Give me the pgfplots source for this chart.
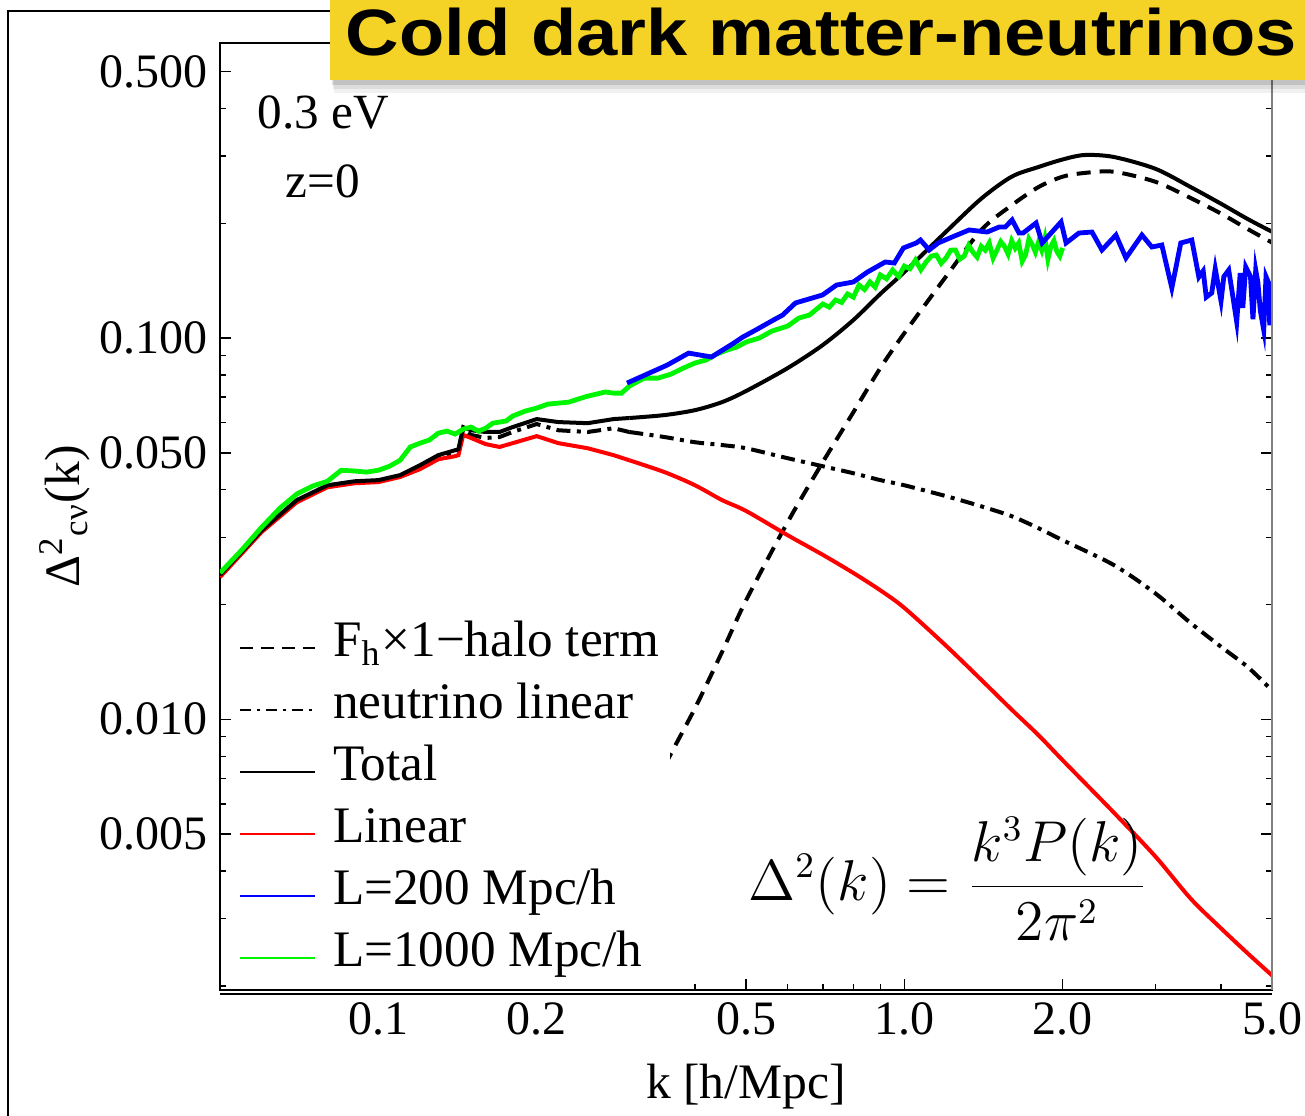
\documentclass[border=0pt]{standalone}
\usepackage{fontspec}
\setmainfont{Liberation Serif}
\newfontfamily\titlefont{Liberation Sans}
\usepackage{graphicx}
\usepackage{pgfplots}
\pgfplotsset{compat=1.18}
\definecolor{titleyellow}{RGB}{245,211,38}
\definecolor{pgreen}{RGB}{0,245,0}
\begin{document}
\begin{tikzpicture}
\begin{axis}[
  at={(55pt,-247.5pt)}, anchor=south west,
  scale only axis, width=263pt, height=236.75pt,
  xmode=log, ymode=log,
  xmin=0.05, xmax=5, ymin=0.00195, ymax=0.594,
  xtick={0.1,0.2,0.5,1,2,5},
  xticklabels={0.1,0.2,0.5,1.0,2.0,5.0},
  minor xtick={0.3,0.4,0.6,0.7,0.8,0.9,3,4},
  ytick={0.005,0.01,0.05,0.1,0.5},
  yticklabels={0.005,0.010,0.050,0.100,0.500},
  minor ytick={0.002,0.003,0.004,0.006,0.007,0.008,0.009,0.02,0.03,0.04,0.06,0.07,0.08,0.09,0.2,0.3,0.4},
  major tick length=2.75pt, minor tick length=1.5pt,
  tick style={black, line width=0.35pt},
  axis line style={line width=0.4pt},
  ticklabel style={font=\fontsize{12}{14}\selectfont},
  xticklabel style={inner sep=3pt},
  yticklabel style={inner sep=3pt},
  xlabel={k [h/Mpc]},
  ylabel={Δ\textsuperscript{2}\textsubscript{cν}(k)},
  label style={font=\fontsize{12.4}{14}\selectfont},
  xlabel style={at={(axis description cs:0.5,-0.1024)}, anchor=center},
  ylabel style={at={(axis description cs:-0.1473,0.5)}, anchor=center},
  legend style={at={(axis description cs:0.0171,0.3949)}, anchor=north west, fill=white, draw=none, inner sep=0pt,
    font=\fontsize{12.8}{15}\selectfont, row sep=0pt,
    nodes={inner xsep=2.5pt, inner ysep=0pt, text height=10pt, text depth=5.5pt}},
  legend cell align=left,
  legend image code/.code={\draw[#1] (0pt,0pt) -- (18.75pt,0pt); \path (20.5pt,0pt);},
]
% F_h x 1-halo term
\addplot[forget plot, black, line width=1pt, dash pattern=on 3.5pt off 2.25pt, smooth, tension=0.5] coordinates {
(0.20,0.00148)(0.22,0.00194)(0.25,0.00285)(0.30,0.00481)(0.35,0.00753)(0.40,0.0107)(0.45,0.0150)(0.50,0.0205)(0.60,0.0329)(0.70,0.0473)(0.80,0.0639)(0.90,0.0834)(1.0,0.103)(1.2,0.145)(1.4,0.192)(1.6,0.223)(1.8,0.249)(2.0,0.265)(2.2,0.271)(2.5,0.273)(3.0,0.257)(3.5,0.233)(4.0,0.212)(4.5,0.193)(5.0,0.178)};
% neutrino linear
\addplot[forget plot, black, line width=1pt, dash pattern=on 3.5pt off 1.6pt on 1pt off 1.6pt] coordinates {
(0.05,0.0237)(0.06,0.0311)(0.07,0.0373)(0.08,0.0408)(0.09,0.0418)(0.10,0.0421)(0.11,0.0434)(0.12,0.0460)(0.13,0.0488)(0.14,0.0503)(0.142,0.0506)(0.145,0.0578)(0.15,0.0557)(0.16,0.0547)(0.17,0.0550)(0.18,0.0567)(0.20,0.0595)(0.22,0.0573)(0.25,0.0567)(0.28,0.0580)(0.30,0.0567)};
\addplot[forget plot, black, line width=1pt, dash pattern=on 3.5pt off 1.6pt on 1pt off 1.6pt, smooth, tension=0.5] coordinates {
(0.30,0.0567)(0.35,0.0550)(0.40,0.0533)(0.45,0.0524)(0.50,0.0514)(0.60,0.0484)(0.70,0.0461)(0.80,0.0442)(0.90,0.0424)(1.0,0.0411)(1.2,0.0385)(1.4,0.0362)(1.6,0.0341)(1.8,0.0317)(2.0,0.0295)(2.5,0.0254)(3.0,0.0214)(3.5,0.0179)(4.0,0.0155)(4.5,0.0137)(5.0,0.0119)};
% Linear
\addplot[forget plot, red, line width=1pt] coordinates {
(0.05,0.0236)(0.06,0.0310)(0.07,0.0371)(0.08,0.0406)(0.09,0.0416)(0.10,0.0419)(0.11,0.0432)(0.12,0.0453)(0.13,0.0481)(0.14,0.0490)(0.142,0.0493)(0.145,0.0557)(0.15,0.0547)(0.16,0.0527)(0.17,0.0518)(0.18,0.0530)(0.20,0.0553)(0.22,0.0530)(0.25,0.0514)(0.28,0.0493)(0.30,0.0478)};
\addplot[forget plot, red, line width=1pt, smooth, tension=0.5] coordinates {
(0.30,0.0478)(0.35,0.0445)(0.40,0.0411)(0.45,0.0376)(0.50,0.0352)(0.60,0.0304)(0.70,0.0270)(0.80,0.0242)(0.90,0.0218)(1.0,0.0196)(1.2,0.0156)(1.4,0.0127)(1.6,0.0106)(1.8,0.00908)(2.0,0.00781)(2.5,0.00570)(3.0,0.00437)(3.5,0.00339)(4.0,0.00283)(4.5,0.00243)(5.0,0.00213)};
% Total
\addplot[forget plot, black, line width=1pt] coordinates {
(0.05,0.0239)(0.06,0.0313)(0.07,0.0376)(0.08,0.0411)(0.09,0.0421)(0.10,0.0424)(0.11,0.0437)(0.12,0.0464)(0.13,0.0493)(0.14,0.0508)(0.142,0.0511)(0.145,0.0584)(0.15,0.0573)(0.16,0.0567)(0.17,0.0567)(0.18,0.0584)(0.20,0.0613)(0.22,0.0602)(0.25,0.0598)(0.28,0.0613)(0.30,0.0617)};
\addplot[forget plot, black, line width=1pt, smooth, tension=0.5] coordinates {
(0.30,0.0617)(0.35,0.0628)(0.40,0.0647)(0.45,0.0679)(0.50,0.0726)(0.60,0.0834)(0.70,0.0959)(0.80,0.1115)(0.90,0.1305)(1.0,0.149)(1.2,0.190)(1.4,0.232)(1.6,0.265)(1.8,0.281)(2.0,0.294)(2.2,0.302)(2.5,0.2985)(3.0,0.278)(3.5,0.249)(4.0,0.225)(4.5,0.205)(5.0,0.190)};
% L=1000
\addplot[forget plot, pgreen, line width=1.2pt] coordinates {
(0.05,0.0242)(0.055,0.0278)(0.06,0.0319)(0.065,0.0358)(0.07,0.0390)(0.075,0.0409)(0.08,0.0421)(0.085,0.0450)(0.09,0.0448)(0.095,0.0445)(0.10,0.0450)(0.105,0.0461)(0.11,0.0478)(0.115,0.0518)(0.12,0.0530)(0.125,0.0540)(0.13,0.0563)(0.135,0.0570)(0.14,0.0560)(0.145,0.0577)(0.15,0.0584)(0.155,0.0570)(0.16,0.0580)(0.165,0.0598)(0.17,0.0602)(0.175,0.0606)(0.18,0.0624)(0.19,0.0643)(0.20,0.0655)(0.21,0.0671)(0.22,0.0675)(0.23,0.0679)(0.24,0.0692)(0.25,0.0704)(0.26,0.0713)(0.27,0.0722)(0.28,0.0717)(0.29,0.0717)(0.30,0.0748)(0.32,0.0785)(0.34,0.0785)(0.36,0.0804)(0.38,0.0834)(0.40,0.0860)(0.42,0.0876)(0.44,0.0908)(0.46,0.0930)(0.48,0.0947)(0.50,0.0976)(0.53,0.1000)(0.56,0.1043)(0.60,0.1075)(0.63,0.1128)(0.66,0.1149)(0.70,0.1228)(0.72,0.1205)(0.74,0.1258)(0.76,0.1240)(0.78,0.1305)(0.80,0.1280)(0.82,0.1377)(0.84,0.1340)(0.86,0.1403)(0.88,0.1360)(0.90,0.1464)(0.925,0.1430)(0.95,0.1508)(0.975,0.1450)(1.0,0.1545)(1.025,0.1520)(1.05,0.1602)(1.075,0.1510)(1.1,0.1583)(1.125,0.1640)(1.15,0.1651)(1.175,0.1570)(1.2,0.1622)(1.225,0.1700)(1.25,0.1702)(1.275,0.1610)(1.3,0.1641)(1.325,0.1750)(1.35,0.1680)(1.375,0.1630)(1.4,0.1740)(1.425,0.1700)(1.45,0.1776)(1.475,0.1620)(1.5,0.1702)(1.525,0.1790)(1.55,0.1740)(1.575,0.1660)(1.6,0.1800)(1.625,0.1720)(1.65,0.1776)(1.675,0.1590)(1.7,0.1651)(1.725,0.1820)(1.75,0.1760)(1.775,0.1680)(1.8,0.1790)(1.825,0.1700)(1.85,0.1830)(1.875,0.1610)(1.9,0.1741)(1.925,0.1800)(1.95,0.1686)(1.975,0.1640)(2.0,0.1723)};
% L=200
\addplot[forget plot, blue, line width=1.2pt] coordinates {
(0.297,0.0762)(0.354,0.0849)(0.389,0.0913)(0.430,0.0892)(0.474,0.0970)(0.493,0.1006)(0.522,0.1050)(0.564,0.1115)(0.587,0.1149)(0.621,0.1236)(0.699,0.1297)(0.743,0.1377)(0.800,0.1403)(0.851,0.1490)(0.920,0.1583)(0.957,0.1573)(0.996,0.1723)(1.054,0.1776)(1.073,0.1808)(1.115,0.1702)(1.160,0.1776)(1.233,0.1841)(1.328,0.1921)(1.437,0.1897)(1.515,0.1956)(1.555,0.1956)(1.603,0.2040)(1.652,0.1886)(1.682,0.1886)(1.780,0.2003)(1.828,0.1776)(1.986,0.2016)(2.030,0.1776)(2.148,0.1886)(2.274,0.1897)(2.375,0.1702)(2.525,0.1863)(2.638,0.1622)(2.829,0.1863)(2.955,0.1733)(3.087,0.1754)(3.225,0.1353)(3.354,0.1776)(3.520,0.1808)(3.630,0.1446)(3.70,0.150)(3.75,0.128)(3.841,0.1313)(3.90,0.152)(4.00,0.125)(4.05,0.145)(4.137,0.1508)(4.20,0.132)(4.284,0.1102)(4.35,0.148)(4.40,0.120)(4.457,0.1536)(4.55,0.145)(4.60,0.112)(4.656,0.1508)(4.70,0.140)(4.75,0.118)(4.822,0.1050)(4.87,0.145)(4.928,0.1394)(4.95,0.108)(4.993,0.1258)};
\addlegendimage{black, line width=0.6pt, dash pattern=on 3.25pt off 2pt}
\addlegendentry{F\textsubscript{h}×1−halo term}
\addlegendimage{black, line width=0.6pt, dash pattern=on 2.75pt off 1.5pt on 0.75pt off 1.5pt}
\addlegendentry{neutrino linear}
\addlegendimage{black, line width=0.6pt}
\addlegendentry{Total}
\addlegendimage{red, line width=0.6pt}
\addlegendentry{Linear}
\addlegendimage{blue, line width=0.6pt}
\addlegendentry{L=200 Mpc/h}
\addlegendimage{pgreen, line width=0.6pt}
\addlegendentry{L=1000 Mpc/h}
\end{axis}
\begin{scope}[x=0.25pt,y=-0.25pt]
  \draw[gray, line width=0.7pt] (1272,80) -- (1272,990);
  \draw[black, line width=0.5pt] (220,994) -- (1272,994);
  \draw[black, line width=0.7pt] (8,1200) -- (8,11) -- (1400,11);
  \node[font=\fontsize{12.3}{14}\selectfont] at (323,113) {0.3 eV};
  \node[font=\fontsize{12.3}{14}\selectfont] at (323,181) {z=0};
  \node[font=\fontsize{13.4}{16}\selectfont] at (948,879) {$\displaystyle \Delta^2(k) = \frac{k^3P(k)}{2\pi^2}$};
  \fill[black, opacity=0.06] (334,-20) rectangle (1330,93);
  \fill[black, opacity=0.08] (333,-20) rectangle (1330,89);
  \fill[black, opacity=0.12] (332,-20) rectangle (1330,85);
  \fill[titleyellow] (330,-20) rectangle (1330,80);
  \node[anchor=base west, inner sep=0pt] at (345,55) {\scalebox{1.13}[1]{\titlefont\bfseries\fontsize{16.4}{18}\selectfont Cold dark matter-neutrinos}};
\end{scope}
\pgfresetboundingbox
\path[use as bounding box] (0pt,0pt) rectangle (326.25pt,-278.75pt);
\end{tikzpicture}
\end{document}
